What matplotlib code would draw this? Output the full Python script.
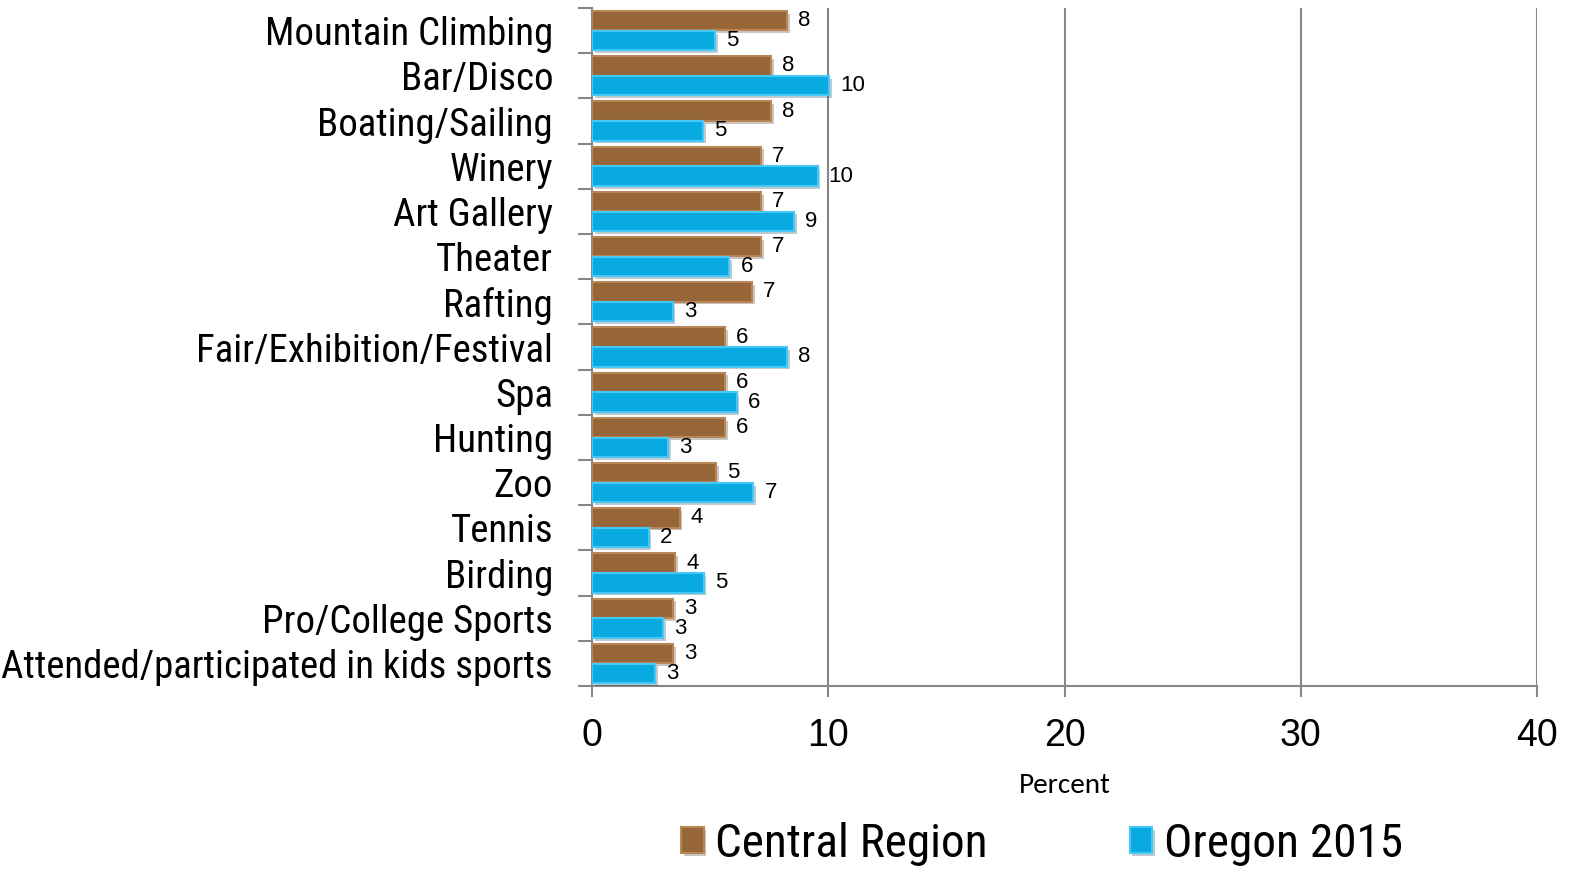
import matplotlib
matplotlib.use("Agg")
import matplotlib.pyplot as plt
import matplotlib.patheffects as pe
from matplotlib import font_manager as fm
import numpy as np

categories = ["Mountain Climbing", "Bar/Disco", "Boating/Sailing", "Winery",
              "Art Gallery", "Theater", "Rafting", "Fair/Exhibition/Festival",
              "Spa", "Hunting", "Zoo", "Tennis", "Birding",
              "Pro/College Sports", "Attended/participated in kids sports"]
central = [8.26, 7.57, 7.57, 7.16, 7.16, 7.16, 6.77, 5.64, 5.64, 5.64,
           5.26, 3.71, 3.53, 3.43, 3.43]
oregon = [5.21, 10.03, 4.71, 9.55, 8.55, 5.82, 3.41, 8.26, 6.12, 3.22,
          6.83, 2.40, 4.72, 3.01, 2.68]
series_names = ["Central Region", "Oregon 2015"]
xticks = [0, 10, 20, 30, 40]

installed = {f.name for f in fm.fontManager.ttflist}
narrow = next((n for n in ["Liberation Sans Narrow", "Arial Narrow", "Roboto Condensed",
                           "PT Sans Narrow", "Archivo Narrow"] if n in installed),
              "Liberation Sans")
NARROW = [narrow, "DejaVu Sans"]
REG = ["Liberation Sans", "DejaVu Sans"]
CAL = ["Carlito", "Lato", "DejaVu Sans"]
GRAY = "#878787"

fig = plt.figure(figsize=(15.72, 8.73), dpi=100)
ax = fig.add_axes([592/1572, 1-686/873, (1537-592)/1572, (686-8)/873])

y = np.arange(len(categories))
h = 0.43
shadow = [pe.SimplePatchShadow(offset=(2, -2), alpha=0.25), pe.Normal()]
b1 = ax.barh(y - 0.22, central, height=h, color="#966538",
             edgecolor="#b98658", linewidth=1.5, zorder=3, label=series_names[0])
b2 = ax.barh(y + 0.22, oregon, height=h, color="#09a9e2",
             edgecolor="#46c8f6", linewidth=1.5, zorder=3, label=series_names[1])
for bars in (b1, b2):
    for p in bars:
        p.set_path_effects(shadow)

# rounded value labels
for vals, off in ((central, -0.22), (oregon, 0.22)):
    for yi, v in zip(y, vals):
        ax.annotate(f"{round(v):d}", (v, yi + off), xytext=(8, 0),
                    textcoords="offset points", va="center", ha="left",
                    fontsize=16, family=REG, zorder=4)

ax.set_xlim(0, 40)
ax.set_ylim(len(categories) - 0.5, -0.5)
ax.set_xticks(xticks)
ax.set_xticklabels([str(t) for t in xticks], fontsize=27, family=REG)
ax.tick_params(axis="x", length=8, width=1.5, color=GRAY, pad=15)
ax.set_yticks(y)
ax.set_yticklabels(categories, fontsize=28, family=NARROW)
ax.tick_params(axis="y", which="major", length=0, pad=28)
ax.set_yticks(np.arange(len(categories) + 1) - 0.5, minor=True)
ax.tick_params(axis="y", which="minor", length=10, width=1.5, color=GRAY)

ax.grid(axis="x", color=GRAY, linewidth=1.5, zorder=0)
for s in ("top", "right"):
    ax.spines[s].set_visible(False)
for s in ("left", "bottom"):
    ax.spines[s].set_color(GRAY)
    ax.spines[s].set_linewidth(1.5)

ax.set_xlabel("Percent", fontsize=21, family=CAL, labelpad=14)

fig.legend(handles=[b1, b2], loc="center", bbox_to_anchor=(1042/1572, 1-844/873),
           ncol=2, frameon=False, prop={"family": NARROW, "size": 34},
           handlelength=0.48, handleheight=0.48, handletextpad=0.25,
           columnspacing=3.0, borderpad=0)

fig.savefig("out.png", dpi=100)
